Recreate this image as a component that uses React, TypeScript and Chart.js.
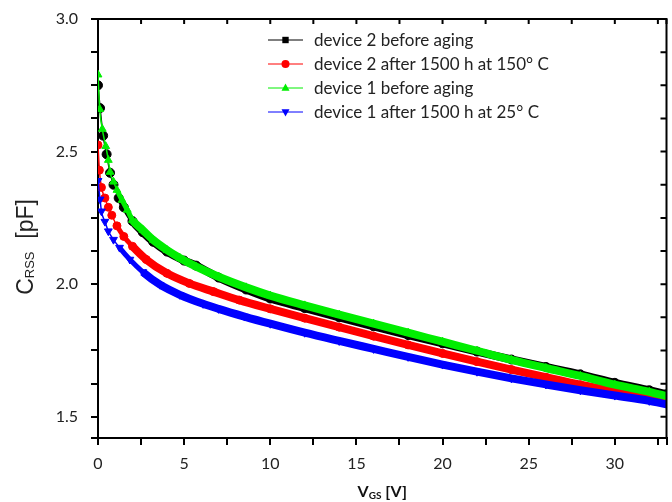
import React, { useEffect, useRef } from 'react';
import { Chart, registerables } from 'chart.js';

Chart.register(...registerables);

// ---- data ----
const SERIES_LABELS = [
  'device 2 before aging',
  'device 2 after 1500 h at 150° C',
  'device 1 before aging',
  'device 1 after 1500 h at 25° C',
];
const SERIES_COLORS = ['#000000', '#ff0000', '#00ee00', '#0000ff'];

const X_BLACK = [0, 0.12, 0.3, 0.5, 0.7, 0.9, 1.2, 1.5, 2.0, 2.6, 3.2, 4.0, 5.0, 5.7, 7, 8.6, 10, 12, 14, 16, 18, 20, 22, 24, 26, 28, 30, 32, 33];
const Y_BLACK = [2.75, 2.664, 2.56, 2.49, 2.42, 2.375, 2.325, 2.29, 2.238, 2.196, 2.16, 2.123, 2.089, 2.07, 2.025, 1.98, 1.946, 1.91, 1.875, 1.841, 1.808, 1.777, 1.746, 1.716, 1.688, 1.66, 1.628, 1.6, 1.585];

const X_RED = [0, 0.08, 0.2, 0.4, 0.6, 0.8, 1.1, 1.5, 2.0, 2.8, 4.0, 5.3, 6.7, 8.2, 10, 12, 14, 16, 18, 20, 22, 24, 26, 28, 30, 32, 33];
const Y_RED = [2.525, 2.43, 2.365, 2.325, 2.29, 2.26, 2.22, 2.18, 2.143, 2.093, 2.041, 2.003, 1.972, 1.94, 1.907, 1.872, 1.838, 1.804, 1.771, 1.739, 1.708, 1.678, 1.649, 1.621, 1.597, 1.578, 1.57];

const X_GREEN = [0, 0.1, 0.25, 0.45, 0.6, 0.7, 0.9, 1.1, 1.4, 1.7, 2.0, 2.6, 3.2, 4.0, 4.75, 5.7, 7, 8.6, 10, 12, 14, 16, 18, 20, 22, 24, 26, 28, 30, 32, 33];
const Y_GREEN = [2.79, 2.66, 2.585, 2.52, 2.468, 2.423, 2.386, 2.355, 2.317, 2.28, 2.242, 2.204, 2.167, 2.129, 2.099, 2.066, 2.028, 1.988, 1.957, 1.92, 1.885, 1.851, 1.817, 1.783, 1.749, 1.715, 1.684, 1.654, 1.621, 1.594, 1.578];

const X_BLUE = [0, 0.12, 0.2, 0.4, 0.6, 0.9, 1.25, 1.85, 2.6, 3.6, 4.75, 6.1, 7, 8.5, 10, 12, 14, 16, 18, 20, 22, 24, 26, 28, 30, 32, 33];
const Y_BLUE = [2.39, 2.32, 2.275, 2.236, 2.2, 2.168, 2.138, 2.093, 2.046, 1.998, 1.96, 1.926, 1.907, 1.878, 1.851, 1.817, 1.786, 1.756, 1.726, 1.697, 1.67, 1.645, 1.622, 1.6, 1.58, 1.56, 1.547];

const X_TICKS = [0, 2.5, 5, 7.5, 10, 12.5, 15, 17.5, 20, 22.5, 25, 27.5, 30, 32.5, 33];
const X_LABELS = [0, 5, 10, 15, 20, 25, 30];
const Y_TICKS = [1.42, 1.5, 1.625, 1.75, 1.875, 2.0, 2.125, 2.25, 2.375, 2.5, 2.625, 2.75, 2.875, 3.0];
const Y_LABELS = [1.5, 2.0, 2.5, 3.0];

const X_MIN = 0;
const X_MAX = 33;
const Y_MIN = 1.42;
const Y_MAX = 3.0;

const TICK_FONT = 'Lato';

function pairs(xs: number[], ys: number[]) {
  return xs.map((x, i) => ({ x, y: ys[i] }));
}

function drawMarker(ctx: CanvasRenderingContext2D, kind: string, x: number, y: number, r: number) {
  ctx.beginPath();
  if (kind === 'rect') {
    ctx.rect(x - r * 0.8, y - r * 0.8, r * 1.6, r * 1.6);
  } else if (kind === 'circle') {
    ctx.arc(x, y, r, 0, Math.PI * 2);
  } else if (kind === 'up') {
    ctx.moveTo(x, y - r * 1.1);
    ctx.lineTo(x + r, y + r * 0.7);
    ctx.lineTo(x - r, y + r * 0.7);
    ctx.closePath();
  } else {
    ctx.moveTo(x, y + r * 1.1);
    ctx.lineTo(x + r, y - r * 0.7);
    ctx.lineTo(x - r, y - r * 0.7);
    ctx.closePath();
  }
  ctx.fill();
}

const LEGEND_MARKERS = ['rect', 'circle', 'up', 'down'];

const framePlugin = {
  id: 'frame',
  afterDraw(chart: any) {
    const { ctx, chartArea: a } = chart;
    ctx.save();
    ctx.strokeStyle = '#000';
    ctx.lineWidth = 2;
    ctx.beginPath();
    ctx.moveTo(a.left, a.top);
    ctx.lineTo(a.right, a.top);
    ctx.lineTo(a.right, a.bottom);
    ctx.stroke();
    // inward ticks on top and right
    ctx.beginPath();
    chart.scales.x.ticks.forEach((t: any) => {
      const px = chart.scales.x.getPixelForValue(t.value);
      ctx.moveTo(px, a.top);
      ctx.lineTo(px, a.top + 5);
    });
    chart.scales.y.ticks.forEach((t: any) => {
      const py = chart.scales.y.getPixelForValue(t.value);
      ctx.moveTo(a.right, py);
      ctx.lineTo(a.right - 6, py);
    });
    ctx.stroke();

    // legend
    const lx0 = a.left + 170;
    const lx1 = a.left + 205;
    const tx = a.left + 216;
    ctx.font = `17px ${TICK_FONT}`;
    ctx.textBaseline = 'middle';
    ctx.textAlign = 'left';
    SERIES_LABELS.forEach((label, i) => {
      const y = a.top + 21 + i * 24;
      ctx.strokeStyle = SERIES_COLORS[i];
      ctx.lineWidth = 1;
      ctx.beginPath();
      ctx.moveTo(lx0, y);
      ctx.lineTo(lx1, y);
      ctx.stroke();
      ctx.fillStyle = SERIES_COLORS[i];
      drawMarker(ctx, LEGEND_MARKERS[i], (lx0 + lx1) / 2, y, 4);
      ctx.fillStyle = '#222';
      ctx.fillText(label, tx, y + 1);
    });

    // axis titles with subscripts
    const drawParts = (parts: [string, string, number][], cx: number, baseY: number) => {
      let w = 0;
      parts.forEach(([s, f]) => {
        ctx.font = f;
        w += ctx.measureText(s).width;
      });
      let x = cx - w / 2;
      parts.forEach(([s, f, dy]) => {
        ctx.font = f;
        ctx.fillText(s, x, baseY + dy);
        x += ctx.measureText(s).width;
      });
    };
    ctx.fillStyle = '#111';
    ctx.textBaseline = 'alphabetic';
    drawParts(
      [
        ['V', `bold 16px ${TICK_FONT}`, 0],
        ['GS', `bold 10px ${TICK_FONT}`, 2],
        [' [V]', `bold 16px ${TICK_FONT}`, 0],
      ],
      (a.left + a.right) / 2,
      a.bottom + 59
    );
    ctx.save();
    ctx.translate(33, a.top + 228);
    ctx.rotate(-Math.PI / 2);
    ctx.fillStyle = '#222';
    drawParts(
      [
        ['C', '23px "Liberation Sans"', 0],
        ['RSS', '13px "Liberation Sans"', 1],
        ['  [pF]', '23px "Liberation Sans"', 0],
      ],
      0,
      0
    );
    ctx.restore();
    ctx.restore();
  },
};

export default function App() {
  const ref = useRef<HTMLCanvasElement | null>(null);

  useEffect(() => {
    if (!ref.current) return;
    const mk = (i: number, xs: number[], ys: number[], style: string, rot: number, order: number, r: number) => ({
      label: SERIES_LABELS[i],
      data: pairs(xs, ys),
      borderColor: SERIES_COLORS[i],
      backgroundColor: SERIES_COLORS[i],
      pointBackgroundColor: SERIES_COLORS[i],
      pointBorderColor: SERIES_COLORS[i],
      borderWidth: 8,
      segment: {
        borderWidth: (c: any) => (c.p0.parsed.x < 1.0 ? 1.5 : c.p0.parsed.x < 2.0 ? 5 : 8),
      },
      pointRadius: r,
      pointBorderWidth: 1,
      pointStyle: style,
      pointRotation: rot,
      cubicInterpolationMode: 'monotone',
      order,
    });
    const chart = new Chart(ref.current, {
      type: 'line',
      data: {
        datasets: [
          mk(0, X_BLACK, Y_BLACK, 'circle', 0, 3, 4.5),
          mk(1, X_RED, Y_RED, 'circle', 0, 2, 4),
          mk(2, X_GREEN, Y_GREEN, 'triangle', 0, 0, 4.5),
          mk(3, X_BLUE, Y_BLUE, 'triangle', 180, 1, 4.5),
        ] as any,
      },
      options: {
        animation: false,
        responsive: false,
        maintainAspectRatio: false,
        layout: { padding: { top: 19, right: 4, left: 0, bottom: 0 } },
        plugins: {
          legend: { display: false },
          tooltip: { enabled: false },
        },
        scales: {
          x: {
            type: 'linear',
            min: X_MIN,
            max: X_MAX,
            afterFit: (s: any) => {
              s.height = 64;
              s.paddingLeft = 0;
              s.paddingRight = 0;
            },
            afterBuildTicks: (s: any) => {
              s.ticks = X_TICKS.map((v) => ({ value: v }));
            },
            ticks: {
              autoSkip: false,
              maxRotation: 0,
              padding: 9,
              color: '#222',
              font: { family: TICK_FONT, size: 16 },
              callback: (v: any) => (X_LABELS.includes(Number(v)) ? String(v) : ''),
            },
            grid: { drawOnChartArea: false, color: '#000', tickLength: 7, tickWidth: 2, lineWidth: 2 },
            border: { display: true, color: '#000', width: 2 },
          },
          y: {
            type: 'linear',
            min: Y_MIN,
            max: Y_MAX,
            afterFit: (s: any) => {
              s.width = 98;
              s.paddingTop = 0;
              s.paddingBottom = 0;
            },
            afterBuildTicks: (s: any) => {
              s.ticks = Y_TICKS.map((v) => ({ value: v }));
            },
            ticks: {
              autoSkip: false,
              padding: 13,
              color: '#222',
              font: { family: TICK_FONT, size: 16 },
              callback: (v: any) => (Y_LABELS.includes(Number(v)) ? Number(v).toFixed(1) : ''),
            },
            grid: { drawOnChartArea: false, color: '#000', tickLength: 7, tickWidth: 2, lineWidth: 2 },
            border: { display: true, color: '#000', width: 2 },
          },
        },
      } as any,
      plugins: [framePlugin],
    });
    const fonts: any = (document as any).fonts;
    if (fonts && fonts.load) {
      Promise.all([fonts.load(`16px ${TICK_FONT}`), fonts.load(`bold 16px ${TICK_FONT}`), fonts.load('23px "Liberation Sans"')])
        .then(() => chart.update())
        .catch(() => {});
    }
    return () => chart.destroy();
  }, []);

  return (
    <div style={{ position: 'fixed', left: 0, top: 0, width: 672, height: 502, background: '#fff' }}>
      <canvas ref={ref} width={672} height={502} style={{ display: 'block', width: 672, height: 502 }} />
    </div>
  );
}
